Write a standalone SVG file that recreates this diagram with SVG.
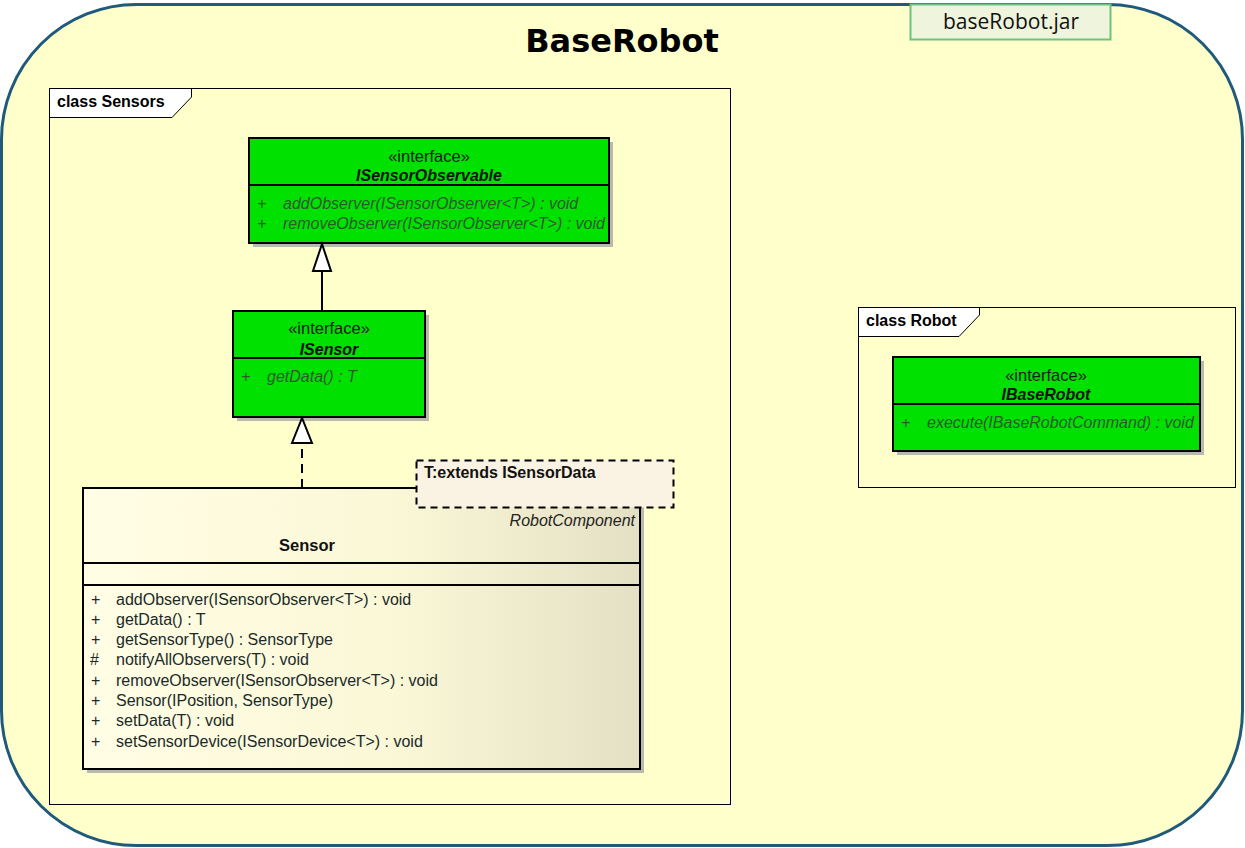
<svg xmlns="http://www.w3.org/2000/svg" width="1245" height="848" viewBox="0 0 1245 848">
<defs>
<linearGradient id="sensorGrad" x1="0" y1="0" x2="1" y2="0">
<stop offset="0" stop-color="#fffde4"/>
<stop offset="0.55" stop-color="#fbf8d8"/>
<stop offset="1" stop-color="#e4e0c4"/>
</linearGradient>
<style>
.cls{font-family:"Liberation Sans",Arial,sans-serif;}
.frame{fill:none;stroke:#000;stroke-width:1;}
.box{stroke:#000;stroke-width:2;}
.green{fill:#00e100;}
.shadow{fill:#a8a8a8;opacity:0.8;}
.st{font-size:16.5px;fill:#1a1a1a;text-anchor:middle;}
.nm{font-size:16px;font-weight:bold;font-style:italic;fill:#111;text-anchor:middle;}
.op{font-size:16px;font-style:italic;fill:#2d5a2d;}
.opn{font-size:16px;fill:#1a2a2a;}
.ftitle{font-size:16px;font-weight:bold;fill:#000;}
.conn{stroke:#000;stroke-width:2;fill:none;}
</style>
</defs>
<rect x="1.5" y="4.5" width="1241" height="841" rx="135" ry="135" fill="#ffffcc" stroke="#1f5a7a" stroke-width="3"/>
<g id="jar">
<rect x="910.5" y="4.5" width="200" height="35" fill="#eef5dc" stroke="#6cc47c" stroke-width="2"/>
<text x="1011" y="29" font-family="'Open Sans','Noto Sans',sans-serif" font-size="21" fill="#111" text-anchor="middle">baseRobot.jar</text>
</g>
<text x="622" y="52" font-family="'DejaVu Sans',Verdana,sans-serif" font-size="32" font-weight="bold" fill="#000" text-anchor="middle">BaseRobot</text>

<g id="frame-sensors" class="cls">
<rect x="49.5" y="88.5" width="681" height="716" class="frame"/>
<path d="M50,89 L191,89 L191,97 L172,117 L50,117 Z" fill="#fff"/>
<path d="M49.5,117.5 L172,117.5 L191.5,97 L191.5,88.5" fill="none" stroke="#000" stroke-width="1"/>
<text x="57" y="107" class="ftitle">class Sensors</text>
</g>

<g id="frame-robot" class="cls">
<rect x="858.5" y="307.5" width="377" height="180" class="frame"/>
<path d="M859,308 L979,308 L979,315 L959,336 L859,336 Z" fill="#fff"/>
<path d="M858.5,336.5 L959,336.5 L979.5,315 L979.5,307.5" fill="none" stroke="#000" stroke-width="1"/>
<text x="866" y="326" class="ftitle">class Robot</text>
</g>

<g id="ISensorObservable" class="cls">
<rect x="253" y="142" width="360" height="105" class="shadow"/>
<rect x="249" y="138" width="360" height="105" class="box green"/>
<line x1="249" y1="185" x2="609" y2="185" stroke="#000" stroke-width="2"/>
<text x="429" y="162" class="st">«interface»</text>
<text x="429" y="181" class="nm">ISensorObservable</text>
<text x="257" y="209" class="op" font-style="normal">+</text>
<text x="283" y="209" class="op">addObserver(ISensorObserver&lt;T&gt;) : void</text>
<text x="257" y="229" class="op" font-style="normal">+</text>
<text x="283" y="229" class="op">removeObserver(ISensorObserver&lt;T&gt;) : void</text>
</g>

<g id="ISensor" class="cls">
<rect x="237" y="315" width="192" height="106" class="shadow"/>
<rect x="233" y="311" width="192" height="106" class="box green"/>
<line x1="233" y1="358" x2="425" y2="358" stroke="#000" stroke-width="2"/>
<text x="329" y="334" class="st">«interface»</text>
<text x="329" y="355" class="nm">ISensor</text>
<text x="241" y="382" class="op" font-style="normal">+</text>
<text x="267" y="382" class="op">getData() : T</text>
</g>

<g id="Sensor" class="cls">
<rect x="87" y="492" width="557" height="281" class="shadow"/>
<rect x="83" y="488" width="557" height="281" fill="url(#sensorGrad)" class="box"/>
<line x1="83" y1="563" x2="640" y2="563" stroke="#000" stroke-width="2"/>
<line x1="83" y1="585" x2="640" y2="585" stroke="#000" stroke-width="2"/>
<text x="635" y="526" font-size="16" font-style="italic" fill="#222" text-anchor="end">RobotComponent</text>
<text x="307" y="551" font-size="16.5" font-weight="bold" fill="#111" text-anchor="middle">Sensor</text>
<g class="opn">
<text x="91" y="605">+</text><text x="116" y="605">addObserver(ISensorObserver&lt;T&gt;) : void</text>
<text x="91" y="625">+</text><text x="116" y="625">getData() : T</text>
<text x="91" y="645">+</text><text x="116" y="645">getSensorType() : SensorType</text>
<text x="90" y="665">#</text><text x="116" y="665">notifyAllObservers(T) : void</text>
<text x="91" y="686">+</text><text x="116" y="686">removeObserver(ISensorObserver&lt;T&gt;) : void</text>
<text x="91" y="706">+</text><text x="116" y="706">Sensor(IPosition, SensorType)</text>
<text x="91" y="726">+</text><text x="116" y="726">setData(T) : void</text>
<text x="91" y="747">+</text><text x="116" y="747">setSensorDevice(ISensorDevice&lt;T&gt;) : void</text>
</g>
</g>

<g id="template" class="cls">
<rect x="416.5" y="460.5" width="257" height="47" fill="#faf2e2" stroke="#000" stroke-width="2" stroke-dasharray="7,5"/>
<text x="424" y="478" font-size="16" font-weight="bold" fill="#111">T:extends ISensorData</text>
</g>

<g id="IBaseRobot" class="cls">
<rect x="897" y="361" width="307" height="94" class="shadow"/>
<rect x="893" y="357" width="307" height="94" class="box green"/>
<line x1="893" y1="404" x2="1200" y2="404" stroke="#000" stroke-width="2"/>
<text x="1046" y="381" class="st">«interface»</text>
<text x="1046" y="400" class="nm">IBaseRobot</text>
<text x="901" y="428" class="op" font-style="normal">+</text>
<text x="927" y="428" class="op">execute(IBaseRobotCommand) : void</text>
</g>

<g id="connectors">
<line x1="322" y1="311" x2="322" y2="271" class="conn"/>
<polygon points="322,244 313,271 331,271" fill="#fff" stroke="#000" stroke-width="2"/>
<line x1="302" y1="488" x2="302" y2="443" class="conn" stroke-dasharray="9,6"/>
<polygon points="302,418 292,443 312,443" fill="#fff" stroke="#000" stroke-width="2"/>
</g>
</svg>
